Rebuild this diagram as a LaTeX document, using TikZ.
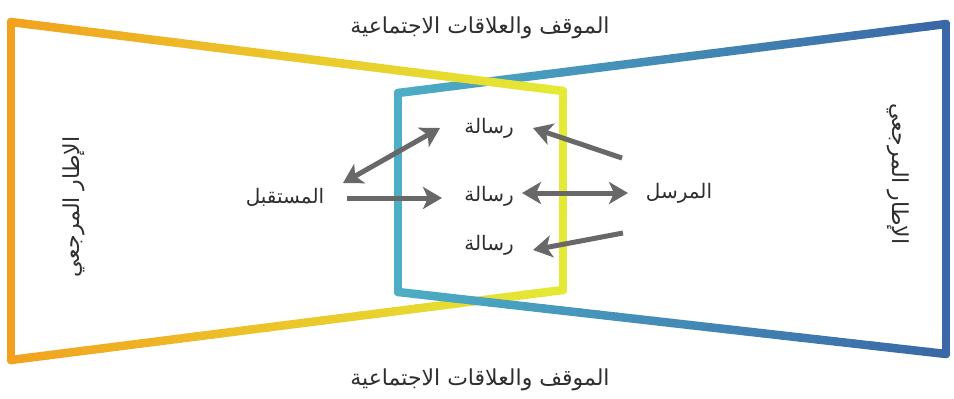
\documentclass[tikz,border=0pt]{standalone}
\usepackage{fontspec}
\newfontfamily\arabicfont[Script=Arabic]{DejaVu Sans}
\TeXXeTstate=1
\usetikzlibrary{arrows.meta,calc}

\definecolor{frameorange}{HTML}{F2A11F}
\definecolor{framelemon}{HTML}{E4EA35}
\definecolor{frameteal}{HTML}{4DAEC6}
\definecolor{frameblue}{HTML}{3A68A6}
\definecolor{arrowgray}{HTML}{686868}
\definecolor{labelgray}{HTML}{2E2E2E}

% a thick straight band whose colour runs from #3 at #1 to #4 at #2
\newcommand\gradband[4]{%
  \foreach \k in {0,...,29}{%
    \pgfmathsetmacro\ta{\k/30}%
    \pgfmathsetmacro\tb{(\k+1)/30}%
    \pgfmathtruncatemacro\pc{100-100*(\k+0.5)/30}%
    \draw[band, draw=#3!\pc!#4] ($#1!\ta!#2$) -- ($#1!\tb!#2$);
  }}

\begin{document}
\begin{tikzpicture}[x=1pt,y=-1pt,
  band/.style={line width=8.5pt, line cap=round},
  ar/.style={font=\arabicfont\fontsize{20}{24}\selectfont, text=labelgray, inner sep=2pt},
  title/.style={font=\arabicfont\fontsize{22}{26}\selectfont, text=labelgray, inner sep=2pt},
  side/.style={font=\arabicfont\fontsize{22}{26}\selectfont, text=labelgray, inner sep=2pt},
  tip/.tip={Stealth[length=19pt,width=22pt,inset=5pt]},
  link/.style={draw=arrowgray, line width=5pt, -tip},
  dlink/.style={draw=arrowgray, line width=5pt, tip-tip}]
\useasboundingbox (0,0) rectangle (954,399);
\fill[white] (0,0) rectangle (954,399);

% corners of the two frames
\coordinate (LTL) at (11,22);
\coordinate (LBL) at (11,360);
\coordinate (LTR) at (563,91);
\coordinate (LBR) at (563,290);
\coordinate (RTL) at (398,93);
\coordinate (RBL) at (398,292);
\coordinate (RTR) at (946,24);
\coordinate (RBR) at (946,354);

% right frame (blue), except its lower edge
\gradband{(RTL)}{(RBL)}{frameteal}{frameteal}
\gradband{(RTL)}{(RTR)}{frameteal}{frameblue}
\gradband{(RTR)}{(RBR)}{frameblue}{frameblue}

% left frame (orange to lemon)
\gradband{(LTL)}{(LBL)}{frameorange}{frameorange}
\gradband{(LTL)}{(LTR)}{frameorange}{framelemon}
\gradband{(LTR)}{(LBR)}{framelemon}{framelemon}
\gradband{(LBL)}{(LBR)}{frameorange}{framelemon}

% lower edge of the blue frame passes over the lemon one
\gradband{(RBL)}{(RBR)}{frameteal}{frameblue}

% labels
\node[title] (toptitle) at (480,28) {\beginR الموقف والعلاقات الاجتماعية\endR};
\node[title] (bottitle) at (480,380) {\beginR الموقف والعلاقات الاجتماعية\endR};
\node[side, rotate=90] (leftframe) at (74,207) {\beginR الإطار المرجعي\endR};
\node[side, rotate=-90] (rightframe) at (898,174) {\beginR الإطار المرجعي\endR};

\node[ar] (receiver) at (285,197) {\beginR المستقبل\endR};
\node[ar] (sender) at (679,193) {\beginR المرسل\endR};
\node[ar] (msgtop) at (489,128) {\beginR رسالة\endR};
\node[ar] (msgmid) at (489,196) {\beginR رسالة\endR};
\node[ar] (msgbot) at (489,245) {\beginR رسالة\endR};

% free ends of the connectors
\coordinate (rxA) at ($(receiver.center)+(58,-14)$);
\coordinate (rxB) at ($(receiver.center)+(62,1)$);
\coordinate (sxA) at ($(sender.center)+(-57,-35)$);
\coordinate (sxB) at ($(sender.center)+(-51,0)$);
\coordinate (sxC) at ($(sender.center)+(-56,40)$);
\coordinate (mtL) at ($(msgtop.center)+(-49,0)$);
\coordinate (mtR) at ($(msgtop.center)+(44,0)$);
\coordinate (mmL) at ($(msgmid.center)+(-47,2)$);
\coordinate (mmR) at ($(msgmid.center)+(33,-3)$);
\coordinate (mbR) at ($(msgbot.center)+(44,5)$);

% connectors
\draw[dlink] (rxA) -- (mtL);
\draw[link] (rxB) -- (mmL);
\draw[dlink] (mmR) -- (sxB);
\draw[link] (sxA) -- (mtR);
\draw[link] (sxC) -- (mbR);
\end{tikzpicture}
\end{document}
